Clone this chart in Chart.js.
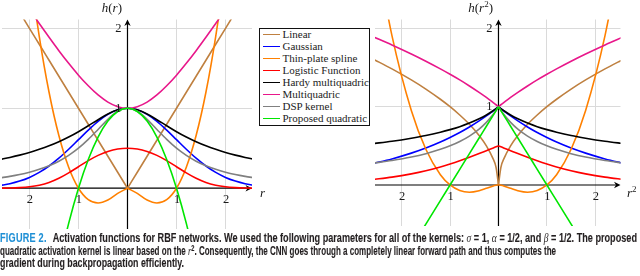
<!DOCTYPE html>
<html>
<head>
<meta charset="utf-8">
<script src="https://cdn.jsdelivr.net/npm/chart.js@4.4.0/dist/chart.umd.min.js"></script>
<style>
  html, body { margin: 0; padding: 0; background: #fff; }
  body { width: 640px; height: 276px; position: relative; overflow: hidden; }
  #leftChart { position: absolute; left: 0; top: 0; }
  #rightChart { position: absolute; left: 370px; top: 0; }
  #legend {
    position: absolute; left: 259px; top: 28px; width: 109px; height: 96px;
    border: 1.4px solid #111; background: #fff; padding-top: 0.3px;
    font: 11px "Liberation Serif", serif; color: #222;
  }
  .row { height: 11.9px; line-height: 11.9px; white-space: nowrap; }
  .swatch { display: inline-block; width: 17px; height: 0; border-top: 1.5px solid; vertical-align: middle; margin: 0 3px 0 2.5px; position: relative; top: -1px; }
  #caption { position: absolute; left: 0; top: 230.5px; width: 640px; font: bold 12px "Liberation Sans Narrow", "Liberation Sans", sans-serif; color: #231f20; -webkit-text-stroke: 0.12px #231f20; }
  .ln { position: relative; height: 13.3px; }
  .ln > span.fit { position: absolute; left: 0; top: 0; line-height: 13.3px; white-space: nowrap; transform-origin: 0 0; }
  .fig { color: #1e8fd5; -webkit-text-stroke: 0.12px #1e8fd5; letter-spacing: 0.3px; margin-right: 5px; }
  .m { font: italic 12.5px "Liberation Serif", serif; font-weight: normal; -webkit-text-stroke: 0; }
  .sup { font-size: 8.5px; position: relative; top: -4px; }
</style>
</head>
<body>
<canvas id="leftChart" width="270" height="232"></canvas>
<canvas id="rightChart" width="270" height="232"></canvas>
<div id="legend"></div>
<div id="caption">
  <div class="ln" data-w="637"><span class="fit"><span class="fig">FIGURE 2.</span> Activation functions for RBF networks. We used the following parameters for all of the kernels: <span class="m">σ</span> = 1, <span class="m">α</span> = 1/2, and <span class="m">β</span> = 1/2. The proposed</span></div>
  <div class="ln" data-w="556"><span class="fit">quadratic activation kernel is linear based on the <span class="m">r</span><span class="sup">2</span>. Consequently, the CNN goes through a completely linear forward path and thus computes the</span></div>
  <div class="ln" data-w="184"><span class="fit">gradient during backpropagation efficiently.</span></div>
</div>
<script>
// kernels, in legend order
const SERIES = ['Linear', 'Gaussian', 'Thin-plate spline', 'Logistic Function',
  'Hardy multiquadric', 'Multiquadric', 'DSP kernel', 'Proposed quadratic'];
const COLORS = ['#bf8040', '#0000ff', '#ff8000', '#ff0000', '#000000', '#e8178a', '#808080', '#00e600'];

// left panel: h(r)
const L_X = [-2.6,-2.4,-2.2,-2.0,-1.8,-1.6,-1.4,-1.2,-1.0,-0.8,-0.6,-0.4,-0.2,0,0.2,0.4,0.6,0.8,1.0,1.2,1.4,1.6,1.8,2.0,2.2,2.4,2.6];
const L_LINEAR = [2.6,2.4,2.2,2.0,1.8,1.6,1.4,1.2,1.0,0.8,0.6,0.4,0.2,0,0.2,0.4,0.6,0.8,1.0,1.2,1.4,1.6,1.8,2.0,2.2,2.4,2.6];
const L_GAUSS = [0.034,0.056,0.089,0.135,0.198,0.278,0.375,0.487,0.607,0.726,0.835,0.923,0.980,1,0.980,0.923,0.835,0.726,0.607,0.487,0.375,0.278,0.198,0.135,0.089,0.056,0.034];
const L_THIN = [6.46,5.04,3.82,2.77,1.90,1.20,0.659,0.263,0,-0.143,-0.184,-0.147,-0.064,0,-0.064,-0.147,-0.184,-0.143,0,0.263,0.659,1.20,1.90,2.77,3.82,5.04,6.46];
const L_LOGISTIC = [0.001,0.003,0.008,0.018,0.038,0.072,0.124,0.192,0.269,0.345,0.411,0.460,0.490,0.5,0.490,0.460,0.411,0.345,0.269,0.192,0.124,0.072,0.038,0.018,0.008,0.003,0.001];
const L_HARDY = [0.359,0.385,0.414,0.447,0.486,0.530,0.581,0.640,0.707,0.781,0.857,0.928,0.981,1,0.981,0.928,0.857,0.781,0.707,0.640,0.581,0.530,0.486,0.447,0.414,0.385,0.359];
const L_MULTI = [2.786,2.600,2.417,2.236,2.059,1.887,1.720,1.562,1.414,1.281,1.166,1.077,1.020,1,1.020,1.077,1.166,1.281,1.414,1.562,1.720,1.887,2.059,2.236,2.417,2.600,2.786];
const L_DSP = [0.129,0.148,0.171,0.2,0.236,0.281,0.338,0.410,0.5,0.610,0.735,0.862,0.962,1,0.962,0.862,0.735,0.610,0.5,0.410,0.338,0.281,0.236,0.2,0.171,0.148,0.129];
const L_QUAD = [-5.76,-4.76,-3.84,-3.0,-2.24,-1.56,-0.96,-0.44,0,0.36,0.64,0.84,0.96,1,0.96,0.84,0.64,0.36,0,-0.44,-0.96,-1.56,-2.24,-3.0,-3.84,-4.76,-5.76];

// right panel: h(r^2)
const R_X = [-2.6,-2.2,-1.8,-1.5,-1.2,-1.0,-0.8,-0.6,-0.4,-0.25,-0.12,-0.05,0,0.05,0.12,0.25,0.4,0.6,0.8,1.0,1.2,1.5,1.8,2.2,2.6];
const R_LINEAR = [1.612,1.483,1.342,1.225,1.095,1,0.894,0.775,0.632,0.5,0.346,0.224,0,0.224,0.346,0.5,0.632,0.775,0.894,1,1.095,1.225,1.342,1.483,1.612];
const R_GAUSS = [0.273,0.333,0.407,0.472,0.549,0.607,0.670,0.741,0.819,0.882,0.942,0.975,1,0.975,0.942,0.882,0.819,0.741,0.670,0.607,0.549,0.472,0.407,0.333,0.273];
const R_THIN = [3.23,1.908,0.952,0.456,0.131,0,-0.071,-0.092,-0.073,-0.043,-0.015,-0.004,0,-0.004,-0.015,-0.043,-0.073,-0.092,-0.071,0,0.131,0.456,0.952,1.908,3.23];
const R_LOGISTIC = [0.069,0.100,0.142,0.182,0.231,0.269,0.310,0.354,0.401,0.438,0.470,0.488,0.5,0.488,0.470,0.438,0.401,0.354,0.310,0.269,0.231,0.182,0.142,0.100,0.069];
const R_HARDY = [0.527,0.559,0.598,0.632,0.674,0.707,0.745,0.791,0.845,0.894,0.945,0.976,1,0.976,0.945,0.894,0.845,0.791,0.745,0.707,0.674,0.632,0.598,0.559,0.527];
const R_MULTI = [1.897,1.789,1.673,1.581,1.483,1.414,1.342,1.265,1.183,1.118,1.058,1.025,1,1.025,1.058,1.118,1.183,1.265,1.342,1.414,1.483,1.581,1.673,1.789,1.897];
const R_DSP = [0.278,0.313,0.357,0.4,0.455,0.5,0.556,0.625,0.714,0.8,0.893,0.952,1,0.952,0.893,0.8,0.714,0.625,0.556,0.5,0.455,0.4,0.357,0.313,0.278];
const R_QUAD = [-1.6,-1.2,-0.8,-0.5,-0.2,0,0.2,0.4,0.6,0.75,0.88,0.95,1,0.95,0.88,0.75,0.6,0.4,0.2,0,-0.2,-0.5,-0.8,-1.2,-1.6];

// ticks
const X_TICKS = [-2, -1, 1, 2];
const X_TICK_LABELS = ['2', '1', '1', '2'];
const Y_TICKS = [1, 2];
const Y_TICK_LABELS = ['1', '2'];

const LEFT_SERIES = [L_LINEAR, L_GAUSS, L_THIN, L_LOGISTIC, L_HARDY, L_MULTI, L_DSP, L_QUAD];
const RIGHT_SERIES = [R_LINEAR, R_GAUSS, R_THIN, R_LOGISTIC, R_HARDY, R_MULTI, R_DSP, R_QUAD];
// curves with a corner at the origin get drawn as two halves
const LEFT_SPLIT = [true, false, true, false, false, false, false, false];
const RIGHT_SPLIT = [true, true, true, true, true, true, true, true];

// legend
const legendEl = document.getElementById('legend');
SERIES.forEach((name, i) => {
  const row = document.createElement('div');
  row.className = 'row';
  row.innerHTML = `<span class="swatch" style="border-color:${COLORS[i]}"></span>${name}`;
  legendEl.appendChild(row);
});

function buildDatasets(xs, seriesList, split) {
  const out = [];
  seriesList.forEach((ys, i) => {
    const pts = xs.map((x, k) => ({ x, y: ys[k] }));
    const parts = split[i] ? [pts.filter(p => p.x <= 0), pts.filter(p => p.x >= 0)] : [pts];
    parts.forEach(data => out.push({
      label: SERIES[i], data,
      borderColor: COLORS[i], borderWidth: 1.6,
      pointRadius: 0, cubicInterpolationMode: 'monotone', fill: false,
      order: SERIES.length - i
    }));
  });
  return out;
}

function drawRuns(ctx, runs, x, y, align) {
  const fontOf = s => s === 'i' ? 'italic 13px "Liberation Serif"' : s === 's' ? '9px "Liberation Serif"' : '13px "Liberation Serif"';
  let total = 0;
  runs.forEach(([t, s]) => { ctx.font = fontOf(s); total += ctx.measureText(t).width; });
  let cx = align === 'right' ? x - total : x;
  ctx.textAlign = 'left';
  ctx.textBaseline = 'alphabetic';
  runs.forEach(([t, s]) => {
    ctx.font = fontOf(s);
    ctx.fillText(t, cx, s === 's' ? y - 5 : y);
    cx += ctx.measureText(t).width;
  });
}

function arrow(ctx, tx, ty, ang) {
  ctx.save();
  ctx.translate(tx, ty);
  ctx.rotate(ang);
  ctx.beginPath();
  ctx.moveTo(0, 0);
  ctx.lineTo(-6.5, -3.2);
  ctx.lineTo(-4.5, 0);
  ctx.lineTo(-6.5, 3.2);
  ctx.closePath();
  ctx.fill();
  ctx.restore();
}

const axesPlugin = {
  id: 'axes',
  beforeDatasetsDraw(chart, args, o) {
    const { ctx, chartArea: a, scales: { x, y } } = chart;
    const x0 = x.getPixelForValue(0), y0 = y.getPixelForValue(0);
    ctx.save();
    ctx.strokeStyle = '#000';
    ctx.fillStyle = '#000';
    ctx.lineWidth = 1.2;
    ctx.beginPath();
    ctx.moveTo(a.left, y0); ctx.lineTo(a.right - 3, y0);
    ctx.moveTo(x0, a.bottom); ctx.lineTo(x0, a.top + 3);
    ctx.stroke();
    arrow(ctx, a.right, y0, 0);
    arrow(ctx, x0, a.top, -Math.PI / 2);
    ctx.restore();
  },
  afterDatasetsDraw(chart, args, o) {
    const { ctx, chartArea: a, scales: { x, y } } = chart;
    const x0 = x.getPixelForValue(0), y0 = y.getPixelForValue(0);
    ctx.save();
    ctx.fillStyle = '#1a1a1a';
    ctx.font = '12.5px "Liberation Serif"';
    ctx.textAlign = 'center';
    ctx.textBaseline = 'middle';
    X_TICKS.forEach((v, i) => ctx.fillText(X_TICK_LABELS[i], x.getPixelForValue(v) + 0.5, y0 + o.xLabelDy));
    ctx.textAlign = 'right';
    Y_TICKS.forEach((v, i) => ctx.fillText(Y_TICK_LABELS[i], x0 - 6, y.getPixelForValue(v)));
    drawRuns(ctx, o.yTitle, x0 - 5.5, 11.5, 'right');
    drawRuns(ctx, o.xTitle, a.right + o.xTitleDx, y0 + o.xTitleDy, 'left');
    ctx.restore();
  }
};

function makeChart(id, xs, seriesList, split, r, axesOpts) {
  return new Chart(document.getElementById(id), {
    type: 'line',
    data: { datasets: buildDatasets(xs, seriesList, split) },
    plugins: [axesPlugin],
    options: {
      responsive: false,
      animation: false,
      events: [],
      layout: { padding: r.pad },
      plugins: { legend: { display: false }, tooltip: { enabled: false }, axes: axesOpts },
      scales: {
        x: {
          type: 'linear', min: r.xmin, max: r.xmax,
          afterBuildTicks: s => { s.ticks = X_TICKS.map(v => ({ value: v })); },
          ticks: { display: false },
          grid: { color: '#dadada', lineWidth: 1, drawTicks: false },
          border: { display: false }
        },
        y: {
          type: 'linear', min: r.ymin, max: r.ymax,
          afterBuildTicks: s => { s.ticks = Y_TICKS.map(v => ({ value: v })); },
          ticks: { display: false },
          grid: { color: '#dadada', lineWidth: 1, drawTicks: false },
          border: { display: false }
        }
      }
    }
  });
}

function fitCaption() {
  document.querySelectorAll('.ln').forEach(ln => {
    const span = ln.querySelector('.fit');
    const w = span.getBoundingClientRect().width;
    span.style.transform = `scaleX(${(+ln.dataset.w / w).toFixed(4)})`;
  });
}

Promise.all([
  document.fonts.load('13px "Liberation Serif"'),
  document.fonts.load('italic 13px "Liberation Serif"'),
  document.fonts.load('bold 12px "Liberation Sans Narrow"'),
  document.fonts.load('bold 12px "Liberation Sans"')
]).catch(() => {}).then(() => {
  makeChart('leftChart', L_X, LEFT_SERIES, LEFT_SPLIT,
    { pad: { left: 2, right: 18, top: 19.5, bottom: 3 }, xmin: -2.56, xmax: 2.54, ymin: -0.51, ymax: 2.11 },
    { xLabelDy: 11.5, xTitleDx: 8, xTitleDy: 9, yTitle: [['h', 'i'], ['(', 'n'], ['r', 'i'], [')', 'n']], xTitle: [['r', 'i']] });
  makeChart('rightChart', R_X, RIGHT_SERIES, RIGHT_SPLIT,
    { pad: { left: 5, right: 19.5, top: 19.5, bottom: 6 }, xmin: -2.55, xmax: 2.52, ymin: -0.524, ymax: 2.114 },
    { xLabelDy: 12, xTitleDx: 6.5, xTitleDy: 12, yTitle: [['h', 'i'], ['(', 'n'], ['r', 'i'], ['2', 's'], [')', 'n']], xTitle: [['r', 'i'], ['2', 's']] });
  fitCaption();
});
</script>
</body>
</html>
